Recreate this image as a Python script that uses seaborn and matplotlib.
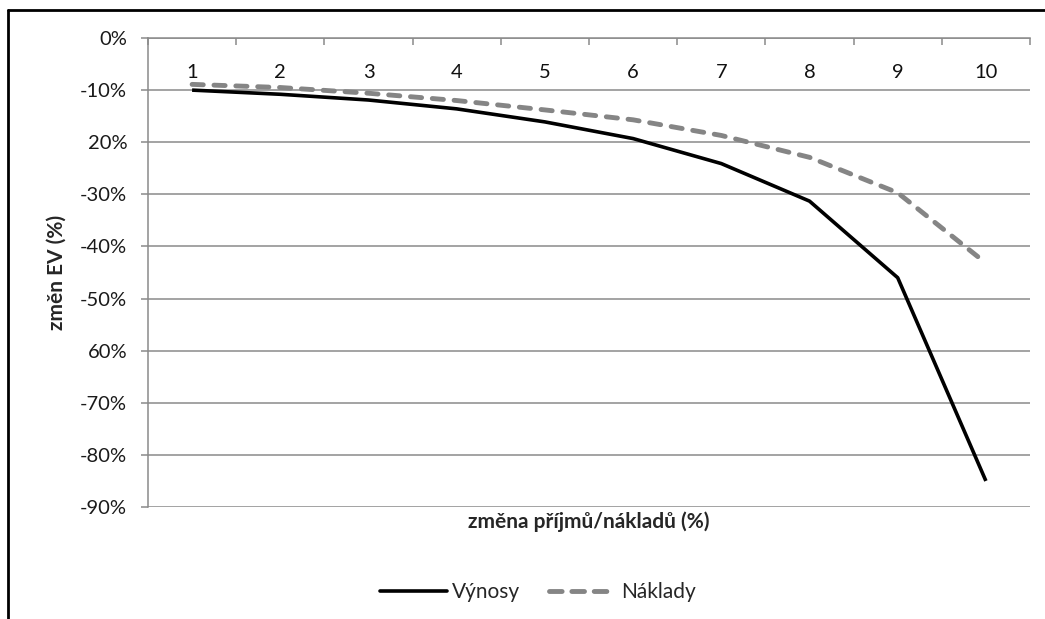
import matplotlib
matplotlib.use("Agg")
import matplotlib.pyplot as plt
from matplotlib.lines import Line2D
import seaborn as sns
import pandas as pd

categories = [1, 2, 3, 4, 5, 6, 7, 8, 9, 10]
vynosy = [-10.0, -10.8, -11.9, -13.6, -16.1, -19.3, -24.1, -31.3, -46.0, -85.0]
naklady = [-8.9, -9.5, -10.6, -12.0, -13.8, -15.7, -18.7, -22.9, -29.7, -43.2]
series_names = ["Výnosy", "Náklady"]
y_ticks = [0, -10, -20, -30, -40, -50, -60, -70, -80, -90]
y_tick_labels = ["0%", "-10%", "20%", "-30%", "-40%", "-50%", "60%", "-70%", "-80%", "-90%"]
x_label = "změna příjmů/nákladů (%)"
y_label = "změn EV (%)"

sns.set_theme(style="white")
plt.rcParams["font.family"] = ["Lato", "DejaVu Sans"]

df = pd.DataFrame({
    "kat": categories * 2,
    "val": vynosy + naklady,
    "series": [series_names[0]] * len(categories) + [series_names[1]] * len(categories),
})

DASH = (2.3, 2.2)
LEG_DASH = (2.6, 2.0)
LW_BLACK = 2.6
LW_GRAY = 3.5
fig = plt.figure(figsize=(10.45, 6.19), dpi=100)
ax = fig.add_axes([148 / 1045, 1 - 507 / 619, (1030 - 148) / 1045, (507 - 38) / 619])

sns.lineplot(data=df, x="kat", y="val", hue="series", style="series",
             palette={"Výnosy": "black", "Náklady": "#858585"},
             dashes={"Výnosy": "", "Náklady": DASH},
             ax=ax, legend=False)
for line, lw in zip(ax.lines, [LW_BLACK, LW_GRAY]):
    line.set_linewidth(lw)
    line.set_dash_capstyle("round")
    line.set_solid_capstyle("butt")

ax.set_xlim(0.5, 10.5)
ax.set_ylim(-90, 0)
ax.set_yticks(y_ticks)
ax.set_yticklabels(y_tick_labels, fontsize=14.5, color="#1a1a1a")
ax.yaxis.grid(True, color="#8a8a8a", linewidth=1.1)
ax.xaxis.grid(False)

ax.xaxis.tick_top()
ax.set_xticks(categories)
ax.set_xticklabels([str(c) for c in categories], fontsize=14.5, color="#111111")
ax.set_xticks([c - 0.5 for c in categories] + [10.5], minor=True)
ax.tick_params(axis="x", which="major", top=True, bottom=False, length=0, pad=-31)
ax.tick_params(axis="x", which="minor", top=True, bottom=False, direction="in",
               length=5, width=1.1, color="#8a8a8a")
ax.tick_params(axis="y", which="major", left=True, length=5, width=1.1,
               color="#8a8a8a", pad=10)

for side in ["right", "bottom"]:
    ax.spines[side].set_visible(False)
ax.spines["top"].set_color("#8a8a8a")
ax.spines["top"].set_linewidth(1.1)
ax.spines["left"].set_color("#8a8a8a")
ax.spines["left"].set_linewidth(1.1)

ax.set_xlabel("")
ax.set_ylabel("")
fig.text(57 / 1045, 1 - 272 / 619, y_label, ha="center", va="center", rotation=90,
         fontsize=15, fontweight="bold")
fig.text(589 / 1045, 1 - 522 / 619, x_label, ha="center", va="center",
         fontsize=15, fontweight="bold")

handles = [Line2D([0], [0], color="black", lw=LW_BLACK),
           Line2D([0], [0], color="#858585", lw=LW_GRAY, linestyle=(0, LEG_DASH),
                  dash_capstyle="round")]
fig.legend(handles, series_names, loc="center", bbox_to_anchor=(538 / 1045, 1 - 592 / 619),
           ncol=2, frameon=False, fontsize=15, handlelength=3.2, handletextpad=0.25,
           columnspacing=1.4, borderpad=0)

fig.add_artist(Line2D([8 / 1045, 1], [1 - 10 / 619, 1 - 10 / 619], color="black", lw=2,
                      transform=fig.transFigure))
fig.add_artist(Line2D([8 / 1045, 8 / 1045], [0, 1 - 10 / 619], color="black", lw=2,
                      transform=fig.transFigure))

fig.savefig("out.png", dpi=100)
